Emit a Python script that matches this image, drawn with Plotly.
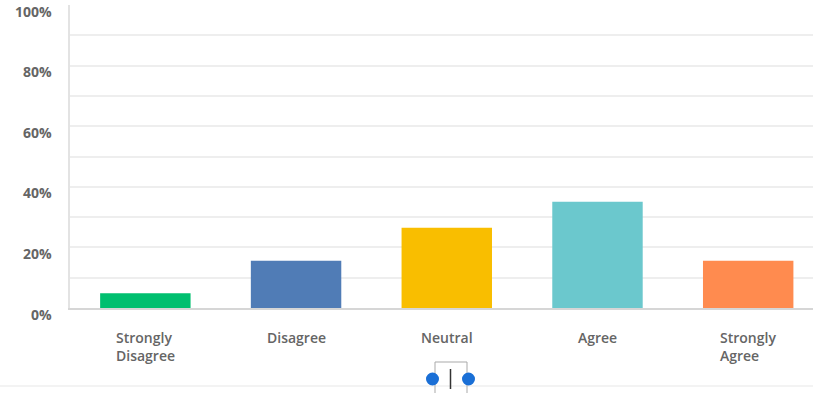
import plotly.graph_objects as go

# Survey responses (% of respondents)
categories = ["Strongly<br>Disagree", "Disagree", "Neutral", "Agree", "Strongly<br>Agree"]
percentages = [4.9, 15.6, 26.5, 35.1, 15.6]
bar_colors = ["#00BF6F", "#507CB6", "#F9BE00", "#6BC8CD", "#FF8B4F"]

y_label_values = [0, 20, 40, 60, 80, 100]
y_label_text = ["0%", "20%", "40%", "60%", "80%", "100%"]
grid_values = [10, 20, 30, 40, 50, 60, 70, 80, 90]

W, H = 813, 393
ML, MR, MT, MB = 70, 0, 5, 85
plot_w = W - ML - MR
plot_h = H - MT - MB

LABEL_GREY = "#656565"

fig = go.Figure(
    go.Bar(
        x=list(range(len(categories))),
        y=percentages,
        marker=dict(color=bar_colors, line=dict(width=0)),
        hoverinfo="skip",
    )
)

# y-axis labels sit a little below their grid lines
annotations = [
    dict(
        x=0, xref="paper", y=v, yref="y", text=t,
        showarrow=False, xanchor="right", yanchor="middle",
        xshift=-16, yshift=-6,
        font=dict(family="Open Sans", size=14, color=LABEL_GREY, weight=700),
    )
    for v, t in zip(y_label_values, y_label_text)
]
# category labels: block centred under each bar, lines left-aligned
annotations += [
    dict(
        x=i, xref="x", y=0, yref="y", text=c,
        showarrow=False, xanchor="center", yanchor="top", align="left",
        yshift=-18,
        font=dict(family="Open Sans", size=14, color=LABEL_GREY, weight=600),
    )
    for i, c in enumerate(categories)
]


def px(xp, yp):
    """Pixel position -> paper coordinates."""
    return (xp - ML) / plot_w, (H - MB - yp) / plot_h


shapes = []
# faint divider along the bottom
x0, y0 = px(0, 386)
x1, _ = px(W, 386)
shapes.append(dict(type="line", xref="paper", yref="paper", x0=x0, x1=x1, y0=y0, y1=y0,
                   line=dict(color="#efefef", width=1.5)))
# resize handle: bracket, centre bar, two dots
bl, bt = px(435, 362)
br, bb = px(467, 393)
shapes.append(dict(type="path", xref="paper", yref="paper",
                   path=f"M {bl},{bb} L {bl},{bt} L {br},{bt} L {br},{bb}",
                   line=dict(color="#a9a9a9", width=1)))
cx, cy0 = px(450.5, 369)
_, cy1 = px(450.5, 389)
shapes.append(dict(type="line", xref="paper", yref="paper", x0=cx, x1=cx, y0=cy0, y1=cy1,
                   line=dict(color="#333333", width=1.5)))
for dot_x in (432.5, 468.5):
    a, b = px(dot_x - 6.5, 372.5)
    c, d = px(dot_x + 6.5, 385.5)
    shapes.append(dict(type="circle", xref="paper", yref="paper", x0=a, x1=c, y0=d, y1=b,
                       fillcolor="#1a6fd6", line=dict(color="#1a6fd6", width=0)))

fig.update_layout(
    width=W, height=H,
    margin=dict(l=ML, r=MR, t=MT, b=MB),
    paper_bgcolor="white", plot_bgcolor="white",
    showlegend=False,
    bargap=0.4,
    annotations=annotations,
    shapes=shapes,
    xaxis=dict(
        range=[-0.5, 4.43],
        tickvals=list(range(len(categories))),
        showticklabels=False,
        showgrid=False, zeroline=False,
        showline=True, linecolor="#d6d6d6", linewidth=1.5,
        ticks="",
        fixedrange=True,
    ),
    yaxis=dict(
        range=[0, 100],
        tickvals=grid_values,
        showticklabels=False,
        showgrid=True, gridcolor="#eeeeee", gridwidth=1.5,
        zeroline=False,
        showline=True, linecolor="#e3e3e3", linewidth=1.5,
        fixedrange=True,
    ),
)

fig.write_html("out.html", config={"displayModeBar": False})
